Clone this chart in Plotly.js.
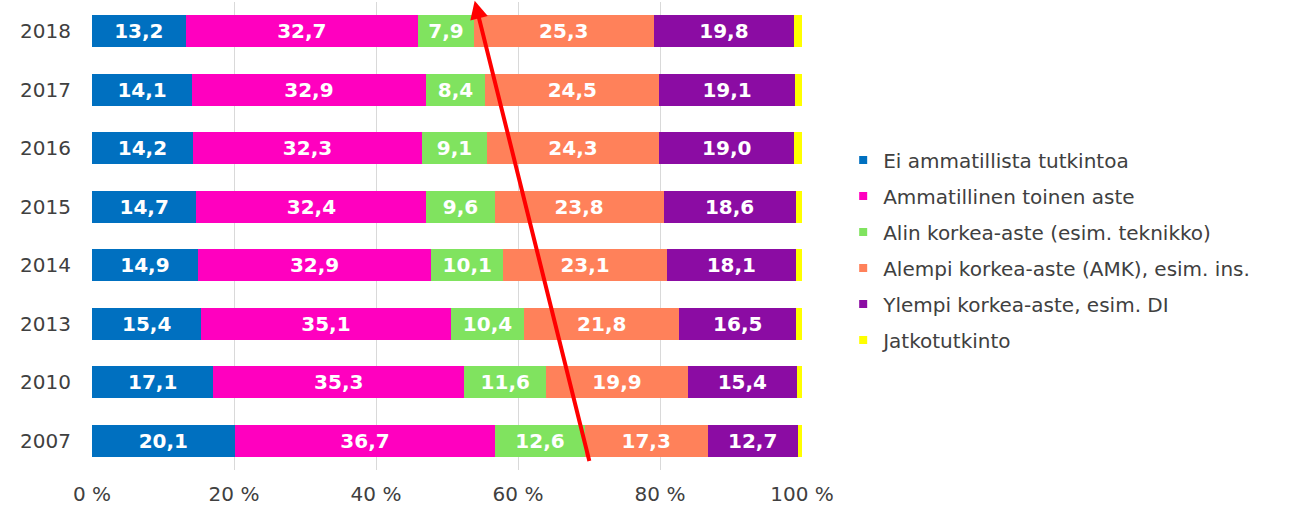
<!DOCTYPE html>
<html>
<head>
<meta charset="utf-8">
<script src="https://cdn.plot.ly/plotly-3.0.1.min.js"></script>
<style>html,body{margin:0;padding:0;background:#fff;}#chart{width:1289px;height:507px;}</style>
</head>
<body>
<div id="chart"></div>
<script>
var years = ['2018','2017','2016','2015','2014','2013','2010','2007'];
var seriesNames = ['Ei ammatillista tutkintoa','Ammatillinen toinen aste','Alin korkea-aste (esim. teknikko)','Alempi korkea-aste (AMK), esim. ins.','Ylempi korkea-aste, esim. DI','Jatkotutkinto'];
var eiAmmatillista = [13.2,14.1,14.2,14.7,14.9,15.4,17.1,20.1];
var ammatillinen   = [32.7,32.9,32.3,32.4,32.9,35.1,35.3,36.7];
var alinKorkea     = [7.9,8.4,9.1,9.6,10.1,10.4,11.6,12.6];
var alempiKorkea   = [25.3,24.5,24.3,23.8,23.1,21.8,19.9,17.3];
var ylempiKorkea   = [19.8,19.1,19.0,18.6,18.1,16.5,15.4,12.7];
var jatkotutkinto  = [1.1,1.0,1.1,0.9,0.9,0.8,0.7,0.6];
var tickValues = [0,20,40,60,80,100];
var tickLabels = ['0 %','20 %','40 %','60 %','80 %','100 %'];
var colors = ['#0070C0','#FF00BF','#80E35F','#FF815A','#8B0CA3','#FFFF00'];

var values = [eiAmmatillista, ammatillinen, alinKorkea, alempiKorkea, ylempiKorkea, jatkotutkinto];
var FONT = 'Verdana, "DejaVu Sans", sans-serif';
var traces = [];
values.forEach(function(v, i){
  traces.push({
    type:'bar', orientation:'h', x:v, y:years, name:seriesNames[i],
    marker:{color:colors[i], line:{width:0}},
    texttemplate: i < 5 ? '%{x:.1f}' : '',
    textposition: i < 5 ? 'inside' : 'none',
    insidetextanchor:'middle',
    textangle:0,
    constraintext:'none',
    textfont:{family:FONT, size:20, color:'#ffffff', weight:'bold'},
    showlegend:false, hoverinfo:'skip'
  });
});
// legend entries with small square symbols
values.forEach(function(v, i){
  traces.push({
    type:'scatter', mode:'markers', x:[null], y:[null], name:seriesNames[i],
    marker:{color:colors[i], symbol:'square', size:8},
    legendgroup:'g'+i, showlegend:true, hoverinfo:'skip'
  });
});

var layout = {
  width:1289, height:507,
  margin:{l:92, r:487, t:2, b:37},
  paper_bgcolor:'#ffffff', plot_bgcolor:'#ffffff',
  barmode:'stack', bargap:0.455,
  separators:', ',
  font:{family:FONT, size:20, color:'#404040'},
  xaxis:{range:[0,100], tickmode:'array', tickvals:tickValues, ticktext:tickLabels, showgrid:true, gridcolor:'#d9d9d9', gridwidth:1,
         zeroline:false, showline:false, ticks:'', ticklabelstandoff:10, tickfont:{family:FONT, size:20, color:'#404040'}, fixedrange:true},
  yaxis:{type:'category', categoryorder:'array', categoryarray:years, range:[7.5,-0.5], showgrid:false, zeroline:false, showline:false,
         ticks:'', ticklabelstandoff:20, tickfont:{family:FONT, size:20, color:'#404040'}, fixedrange:true},
  legend:{x:1.058, y:0.47, xanchor:'left', yanchor:'middle', traceorder:'grouped', tracegroupgap:7,
          font:{family:FONT, size:20, color:'#404040'}, itemwidth:30, bgcolor:'rgba(0,0,0,0)'},
  annotations:[{
    xref:'x', yref:'y', axref:'x', ayref:'y',
    x:53.9, y:-0.52, ax:70.1, ay:7.37,
    text:'', showarrow:true, arrowhead:2, arrowsize:0.9, arrowwidth:4, arrowcolor:'#FF0000', standoff:0, startstandoff:0
  }]
};

Plotly.newPlot('chart', traces, layout, {displayModeBar:false, staticPlot:true});
</script>
</body>
</html>
